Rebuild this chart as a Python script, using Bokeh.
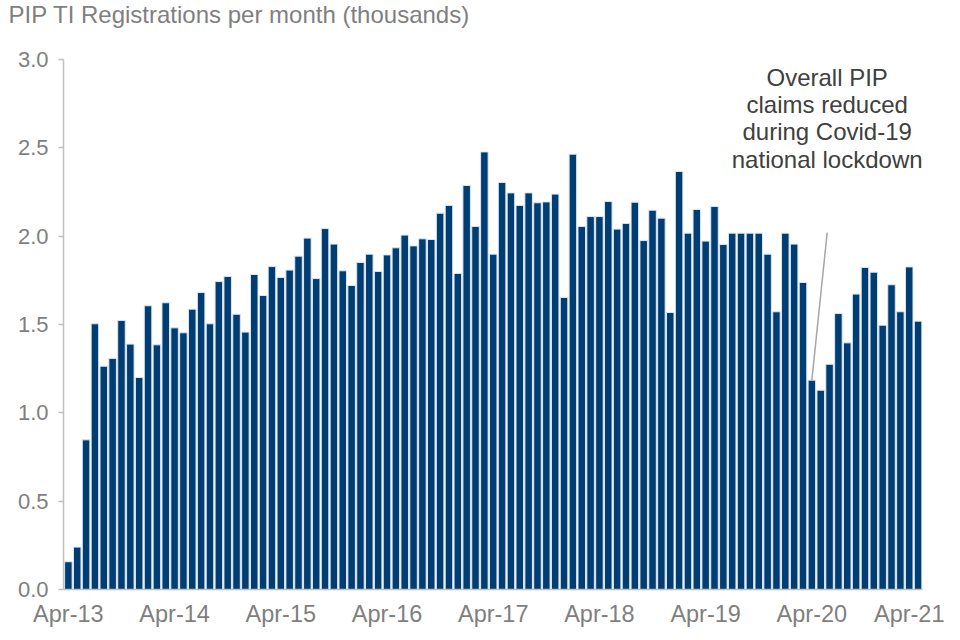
from bokeh.plotting import figure
from bokeh.models import Range1d, FixedTicker, NumeralTickFormatter, Label, Title, ColumnDataSource
from bokeh.embed import file_html
from bokeh.resources import INLINE

# Monthly PIP TI registrations (thousands), Apr-13 .. Apr-21
values = [
    0.157, 0.240, 0.847, 1.504, 1.264, 1.308, 1.523, 1.389, 1.200, 1.606, 1.385, 1.623,
    1.481, 1.453, 1.587, 1.681, 1.504, 1.743, 1.772, 1.558, 1.457, 1.783, 1.664, 1.828,
    1.766, 1.808, 1.887, 1.989, 1.760, 2.043, 1.955, 1.804, 1.721, 1.851, 1.898, 1.800,
    1.894, 1.934, 2.006, 1.945, 1.985, 1.981, 2.130, 2.174, 1.789, 2.287, 2.055, 2.477,
    1.898, 2.304, 2.245, 2.174, 2.245, 2.189, 2.194, 2.238, 1.653, 2.464, 2.055, 2.111,
    2.111, 2.196, 2.040, 2.072, 2.192, 1.975, 2.147, 2.102, 1.568, 2.366, 2.017, 2.151,
    1.972, 2.168, 1.953, 2.017, 2.017, 2.017, 2.017, 1.898, 1.572, 2.017, 1.955, 1.738,
    1.185, 1.128, 1.275, 1.562, 1.396, 1.672, 1.823, 1.796, 1.496, 1.725, 1.572, 1.826,
    1.519,
]
month_index = list(range(len(values)))
tick_labels = ["Apr-13", "Apr-14", "Apr-15", "Apr-16", "Apr-17", "Apr-18", "Apr-19", "Apr-20", "Apr-21"]
tick_positions = [12 * i for i in range(len(tick_labels))]
y_ticks = [0.0, 0.5, 1.0, 1.5, 2.0, 2.5, 3.0]
annotation_lines = ["Overall PIP", "claims reduced", "during Covid-19", "national lockdown"]
lockdown_label = "Apr-20"
title_text = "PIP TI Registrations per month (thousands)"

FONT = "Liberation Sans"
GREY = "#7f7f7f"

p = figure(width=944, height=630, output_backend="svg", toolbar_location=None,
           x_range=Range1d(-0.55, 96.5), y_range=Range1d(0, 3.0),
           min_border_left=63, min_border_right=22, min_border_top=58, min_border_bottom=41)
p.outline_line_color = None
p.xgrid.visible = False
p.ygrid.visible = False
p.background_fill_color = "white"
p.border_fill_color = "white"

src = ColumnDataSource(dict(x=month_index, top=values))
p.vbar(x="x", top="top", bottom=0, width=0.85, source=src,
       fill_color="#003d73", line_color="#dde6f0", line_width=1)

# leader line from lockdown bar
li = tick_positions[tick_labels.index(lockdown_label)]
p.segment(x0=[li], y0=[values[li]], x1=[li + 1.73], y1=[2.02],
          line_color="#a6a6a6", line_width=1.5)

# annotation text
ann_y = [2.90, 2.745, 2.59, 2.435]
for txt, yy in zip(annotation_lines, ann_y):
    p.add_layout(Label(x=li + 1.73, y=yy, text=txt, text_align="center", text_baseline="middle",
                       text_font=FONT, text_font_size="24px", text_color="#404040"))

# axes
p.xaxis.ticker = FixedTicker(ticks=tick_positions)
p.xaxis.major_label_overrides = {pos: lab for pos, lab in zip(tick_positions, tick_labels)}
p.xaxis.major_tick_line_color = None
p.xaxis.minor_tick_line_color = None
p.xaxis.axis_line_color = "#bfbfbf"
p.xaxis.axis_line_width = 1.5
p.xaxis.major_label_text_font = FONT
p.xaxis.major_label_text_font_size = "23.5px"
p.xaxis.major_label_text_color = GREY
p.xaxis.major_label_standoff = 5

p.yaxis.ticker = FixedTicker(ticks=y_ticks)
p.yaxis.formatter = NumeralTickFormatter(format="0.0")
p.yaxis.axis_line_color = "#bfbfbf"
p.yaxis.axis_line_width = 1.5
p.yaxis.major_tick_line_color = "#bfbfbf"
p.yaxis.major_tick_line_width = 1.5
p.yaxis.major_tick_in = 0
p.yaxis.major_tick_out = 5
p.yaxis.minor_tick_line_color = None
p.yaxis.major_label_text_font = FONT
p.yaxis.major_label_text_font_size = "22px"
p.yaxis.major_label_text_color = GREY
p.yaxis.major_label_standoff = 10

# spacer panel between the frame and the title
p.add_layout(Title(text=" ", text_font_size="1px", standoff=27), "above")

p.title = Title(text=title_text, align="left", offset=-55, vertical_align="top", standoff=0,
                text_font=FONT, text_font_size="24px", text_color=GREY, text_font_style="normal")

open("out.html", "w").write(file_html(p, INLINE))
